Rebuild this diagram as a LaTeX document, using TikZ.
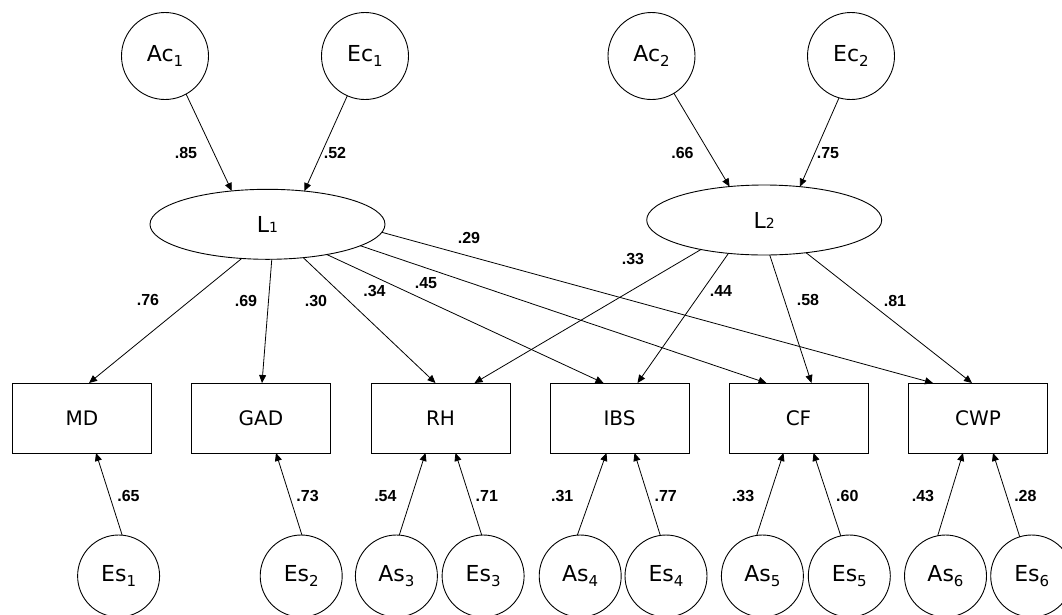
\documentclass[tikz,border=0pt]{standalone}
\usepackage{fontspec}
\setmainfont{DejaVu Sans}
\newfontfamily\lblfont{Liberation Sans}
\usetikzlibrary{arrows.meta,shapes.geometric}
\newcommand{\mysub}[1]{\raisebox{-4.5pt}{\fontsize{15}{15}\selectfont #1}}
\begin{document}
\begin{tikzpicture}[x=1pt,y=-1pt,
  latent/.style={circle,draw,line width=0.9pt,inner sep=0pt,outer sep=0pt,font=\fontsize{22}{22}\selectfont},
  topc/.style={latent,minimum size=87pt},
  botc/.style={latent,minimum size=82pt},
  factor/.style={ellipse,draw,line width=0.9pt,minimum width=235pt,minimum height=70pt,inner sep=0pt,outer sep=0pt,font=\fontsize{22}{22}\selectfont},
  obs/.style={rectangle,draw,line width=0.9pt,minimum width=139pt,minimum height=70pt,inner sep=0pt,outer sep=0pt,font=\fontsize{20}{20}\selectfont},
  arr/.style={-{Triangle[length=8pt,width=7pt]},line width=0.8pt},
  coef/.style={inner sep=0pt,font=\lblfont\bfseries\fontsize{16}{16}\selectfont}
]
\fill[white] (0,0) rectangle (1062,614);
\useasboundingbox (0,0) rectangle (1062,614);

% latent common factors
\node[topc] (Ac1) at (165,56) {Ac\mysub{1}};
\node[topc] (Ec1) at (365,56) {Ec\mysub{1}};
\node[topc] (Ac2) at (651.5,56) {Ac\mysub{2}};
\node[topc] (Ec2) at (851,56) {Ec\mysub{2}};
\node[factor] (L1) at (267.5,224.3) {L{\fontsize{14}{14}\selectfont 1}};
\node[factor] (L2) at (764.2,220) {L{\fontsize{14}{14}\selectfont 2}};

% observed
\node[obs] (MD)  at (82,418)    {MD};
\node[obs] (GAD) at (261,418)   {GAD};
\node[obs] (RH)  at (440.5,418) {RH};
\node[obs] (IBS) at (619.5,418) {IBS};
\node[obs] (CF)  at (798.5,418) {CF};
\node[obs] (CWP) at (978,418)   {CWP};

% specific factors
\node[botc] (Es1) at (118.6,576)  {Es\mysub{1}};
\node[botc] (Es2) at (301.2,576)  {Es\mysub{2}};
\node[botc] (As3) at (396.4,576)  {As\mysub{3}};
\node[botc] (Es3) at (483.1,576)  {Es\mysub{3}};
\node[botc] (As4) at (580.2,576)  {As\mysub{4}};
\node[botc] (Es4) at (666,576)    {Es\mysub{4}};
\node[botc] (As5) at (762.4,576)  {As\mysub{5}};
\node[botc] (Es5) at (849.3,576)  {Es\mysub{5}};
\node[botc] (As6) at (945.5,576)  {As\mysub{6}};
\node[botc] (Es6) at (1031.7,576) {Es\mysub{6}};

% top paths
\draw[arr] (Ac1.299) -- (L1.137);
\draw[arr] (Ec1.246) -- (L1.42);
\draw[arr] (Ac2.301) -- (L2.136);
\draw[arr] (Ec2.254) -- (L2.43);

% loadings L1
\draw[arr] (L1.233) -- ([xshift=7pt]MD.north);
\draw[arr] (L1.277) -- ([xshift=1pt]GAD.north);
\draw[arr] (L1.317) -- ([xshift=-5pt]RH.north);
\draw[arr] (L1.333) -- ([xshift=-16pt]IBS.north);
\draw[arr] (L1.347) -- ([xshift=-32pt]CF.north);
\draw[arr] (L1.356) -- ([xshift=-45pt]CWP.north);
% loadings L2
\draw[arr] (L2.205) -- ([xshift=34pt]RH.north);
\draw[arr] (L2.223) -- ([xshift=18pt]IBS.north);
\draw[arr] (L2.279) -- ([xshift=13pt]CF.north);
\draw[arr] (L2.322) -- ([xshift=-6pt]CWP.north);

% specific paths
\draw[arr] (Es1.85)  -- ([xshift=14pt]MD.south);
\draw[arr] (Es2.89)  -- ([xshift=15pt]GAD.south);
\draw[arr] (As3.86)  -- ([xshift=-15pt]RH.south);
\draw[arr] (Es3.92)  -- ([xshift=15pt]RH.south);
\draw[arr] (As4.94)  -- ([xshift=-13pt]IBS.south);
\draw[arr] (Es4.98)  -- ([xshift=15pt]IBS.south);
\draw[arr] (As5.98)  -- ([xshift=-15pt]CF.south);
\draw[arr] (Es5.102) -- ([xshift=15pt]CF.south);
\draw[arr] (As6.101) -- ([xshift=-15pt]CWP.south);
\draw[arr] (Es6.107) -- ([xshift=15pt]CWP.south);

% coefficients
\node[coef] (c85) at (186,153) {.85};
\node[coef] (c52) at (335,153) {.52};
\node[coef] (c66) at (682.5,153) {.66};
\node[coef] (c75) at (828,153) {.75};
\node[coef] (c76) at (148,300) {.76};
\node[coef] (c69) at (246,301) {.69};
\node[coef] (c30) at (316,301) {.30};
\node[coef] (c34) at (374.5,291) {.34};
\node[coef] (c45) at (426,283) {.45};
\node[coef] (c29) at (469,238) {.29};
\node[coef] (c33a) at (633,259) {.33};
\node[coef] (c44) at (721,291) {.44};
\node[coef] (c58) at (808,300) {.58};
\node[coef] (c81) at (895,301) {.81};
\node[coef] (c65) at (128.5,496) {.65};
\node[coef] (c73) at (307.6,496) {.73};
\node[coef] (c54) at (385.4,496) {.54};
\node[coef] (c71) at (486.8,496) {.71};
\node[coef] (c31) at (562.2,496) {.31};
\node[coef] (c77) at (665.7,496) {.77};
\node[coef] (c33b) at (743.1,496) {.33};
\node[coef] (c60) at (847.3,496) {.60};
\node[coef] (c43) at (923,496) {.43};
\node[coef] (c28) at (1025.4,496) {.28};
\end{tikzpicture}
\end{document}
